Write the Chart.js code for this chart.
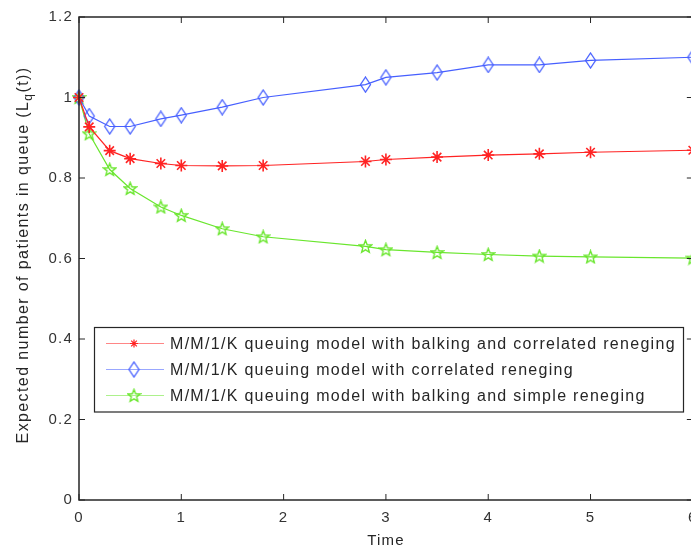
<!DOCTYPE html>
<html>
<head>
<meta charset="utf-8">
<script src="https://cdn.jsdelivr.net/npm/chart.js@4"></script>
<style>
  html, body { margin: 0; padding: 0; background: #fff; overflow: hidden; }
  #wrap { width: 706px; height: 548px; position: relative; }
</style>
</head>
<body>
<div id="wrap"><canvas id="queue-chart" width="706" height="548"></canvas></div>
<script>
const times = [0, 0.1, 0.3, 0.5, 0.8, 1, 1.4, 1.8, 2.8, 3, 3.5, 4, 4.5, 5, 6];
const balkingCorrelated = [1, 0.927, 0.868, 0.848, 0.836, 0.831, 0.830, 0.831, 0.841, 0.846, 0.852, 0.857, 0.860, 0.864, 0.869];
const correlatedOnly = [1, 0.954, 0.928, 0.928, 0.947, 0.956, 0.976, 1.0, 1.032, 1.050, 1.062, 1.081, 1.081, 1.092, 1.100];
const balkingSimple = [1, 0.910, 0.821, 0.774, 0.728, 0.707, 0.674, 0.654, 0.630, 0.622, 0.615, 0.610, 0.606, 0.604, 0.601];
const seriesLabels = [
  "M/M/1/K queuing model with balking and correlated reneging",
  "M/M/1/K queuing model with correlated reneging",
  "M/M/1/K queuing model with balking and simple reneging",
];
const xTicks = [0, 1, 2, 3, 4, 5, 6];
const yTicks = [0, 0.2, 0.4, 0.6, 0.8, 1, 1.2];

const FONT = "Liberation Sans, Arial, Helvetica, sans-serif";
const INK = "#262626";

function diamondMarker(color) {
  const c = document.createElement("canvas");
  c.width = 13;
  c.height = 17;
  const g = c.getContext("2d");
  g.strokeStyle = color;
  g.lineWidth = 1.3;
  g.beginPath();
  g.moveTo(6.5, 1);
  g.lineTo(11.5, 8.5);
  g.lineTo(6.5, 16);
  g.lineTo(1.5, 8.5);
  g.closePath();
  g.stroke();
  return c;
}

function starMarker(color) {
  const c = document.createElement("canvas");
  c.width = 15;
  c.height = 15;
  const g = c.getContext("2d");
  g.strokeStyle = color;
  g.lineWidth = 1.4;
  g.beginPath();
  for (let i = 0; i < 10; i++) {
    const r = i % 2 === 0 ? 6.5 : 2.8;
    const a = -Math.PI / 2 + (i * Math.PI) / 5;
    const px = 7.5 + r * Math.cos(a);
    const py = 8 + r * Math.sin(a);
    if (i === 0) g.moveTo(px, py);
    else g.lineTo(px, py);
  }
  g.closePath();
  g.stroke();
  return c;
}

const colors = ["rgb(255,35,35)", "rgb(70,95,255)", "rgb(105,230,45)"];
const series = [balkingCorrelated, correlatedOnly, balkingSimple];
const markers = ["star", diamondMarker(colors[1]), starMarker(colors[2])];
const markerRadius = [6, 5, 5];

const datasets = series.map((vals, i) => ({
  label: seriesLabels[i],
  data: times.map((t, j) => ({ x: t, y: vals[j] })),
  borderColor: colors[i],
  backgroundColor: "rgba(0,0,0,0)",
  borderWidth: 1.2,
  pointStyle: markers[i],
  pointRadius: markerRadius[i],
  pointBorderWidth: 1.6,
  pointBorderColor: colors[i],
  tension: 0,
  clip: false,
}));

// frame, inward ticks, legend box and y title
const framePlugin = {
  id: "frame",
  beforeDraw(chart) {
    chart.ctx.letterSpacing = "1.2px";
  },
  afterDatasetsDraw(chart) {
    const { ctx, chartArea: a, scales } = chart;
    ctx.save();
    ctx.strokeStyle = INK;
    ctx.lineWidth = 1.5;
    ctx.strokeRect(a.left, a.top, a.right - a.left, a.bottom - a.top);
    ctx.lineWidth = 1;
    ctx.beginPath();
    const len = 6;
    xTicks.forEach((v) => {
      const px = scales.x.getPixelForValue(v);
      ctx.moveTo(px, a.bottom);
      ctx.lineTo(px, a.bottom - len);
      ctx.moveTo(px, a.top);
      ctx.lineTo(px, a.top + len);
    });
    yTicks.forEach((v) => {
      const py = scales.y.getPixelForValue(v);
      ctx.moveTo(a.left, py);
      ctx.lineTo(a.left + len, py);
      ctx.moveTo(a.right, py);
      ctx.lineTo(a.right - len, py);
    });
    ctx.stroke();

    // legend
    const box = { x: 94.5, y: 327.5, w: 589, h: 84.5 };
    ctx.fillStyle = "#fff";
    ctx.fillRect(box.x, box.y, box.w, box.h);
    ctx.lineWidth = 1.2;
    ctx.strokeStyle = INK;
    ctx.strokeRect(box.x, box.y, box.w, box.h);
    ctx.font = "16px " + FONT;
    ctx.letterSpacing = "1.3px";
    ctx.textBaseline = "middle";
    ctx.textAlign = "left";
    chart.data.datasets.forEach((ds, i) => {
      const yy = 343.5 + i * 26;
      ctx.strokeStyle = ds.borderColor;
      ctx.lineWidth = 1.2;
      ctx.globalAlpha = 0.55;
      ctx.beginPath();
      ctx.moveTo(106, yy);
      ctx.lineTo(164, yy);
      ctx.stroke();
      ctx.globalAlpha = 1;
      Chart.helpers.drawPoint(ctx, {
        pointStyle: ds.pointStyle,
        radius: 4,
        borderWidth: 1.2,
        rotation: 0,
      }, 134, yy);
      ctx.fillStyle = INK;
      ctx.fillText(ds.label, 170, yy + 1);
    });

    // y title with subscript
    ctx.translate(24, 255);
    ctx.rotate(-Math.PI / 2);
    ctx.fillStyle = INK;
    ctx.letterSpacing = "1.4px";
    const main = "Expected number of patients in queue (L";
    const sub = "q";
    const tail = "(t))";
    ctx.font = "16px " + FONT;
    const w1 = ctx.measureText(main).width;
    const w3 = ctx.measureText(tail).width;
    ctx.font = "12px " + FONT;
    const w2 = ctx.measureText(sub).width;
    const total = w1 + w2 + w3;
    let cx = -total / 2;
    ctx.font = "16px " + FONT;
    ctx.fillText(main, cx, 0);
    cx += w1;
    ctx.font = "12px " + FONT;
    ctx.fillText(sub, cx, 5);
    cx += w2;
    ctx.font = "16px " + FONT;
    ctx.fillText(tail, cx, 0);
    ctx.restore();
  },
};

new Chart(document.getElementById("queue-chart"), {
  type: "line",
  data: { datasets },
  options: {
    responsive: false,
    animation: false,
    layout: { padding: { left: 0, right: 0, top: 17, bottom: 0 } },
    plugins: {
      legend: { display: false },
      tooltip: { enabled: false },
    },
    scales: {
      x: {
        type: "linear",
        min: 0,
        max: 6,
        afterFit: (s) => { s.height = 48; },
        afterBuildTicks: (s) => { s.ticks = xTicks.map((v) => ({ value: v })); },
        grid: { display: false, drawTicks: false },
        border: { display: false },
        ticks: {
          color: "#333",
          font: { family: FONT, size: 15 },
          padding: 9,
          maxRotation: 0,
          callback: (v) => String(v),
        },
        title: {
          display: true,
          text: "Time",
          color: INK,
          font: { family: FONT, size: 15 },
          padding: { top: 0, bottom: -2 },
        },
      },
      y: {
        min: 0,
        max: 1.2,
        afterFit: (s) => { s.width = 79; },
        afterBuildTicks: (s) => { s.ticks = yTicks.map((v) => ({ value: v })); },
        grid: { display: false, drawTicks: false },
        border: { display: false },
        ticks: {
          color: "#333",
          font: { family: FONT, size: 15 },
          padding: 6,
          callback: (v) => String(Number(v.toFixed(1))),
        },
      },
    },
  },
  plugins: [framePlugin],
});
</script>
</body>
</html>
